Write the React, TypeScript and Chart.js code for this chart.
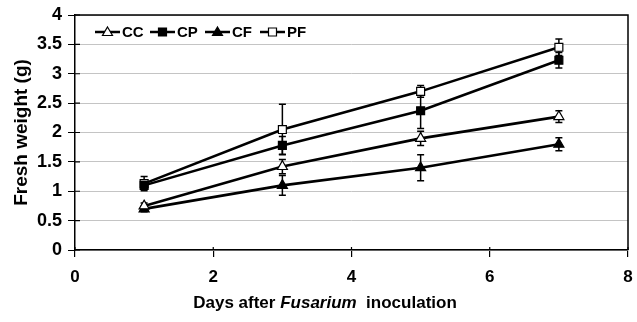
import React, { useEffect, useRef } from "react";
import { Chart, registerables } from "chart.js";

Chart.register(...registerables);

// ---- data ----
const days = [1, 3, 5, 7];
const seriesLabels = ["CC", "CP", "CF", "PF"];
const ccValues = [0.75, 1.42, 1.9, 2.27];
const ccErrors = [0.05, 0.12, 0.12, 0.1];
const cpValues = [1.1, 1.78, 2.37, 3.23];
const cpErrors = [0.05, 0.15, 0.3, 0.13];
const cfValues = [0.7, 1.1, 1.4, 1.8];
const cfErrors = [0.05, 0.17, 0.22, 0.11];
const pfValues = [1.13, 2.05, 2.7, 3.45];
const pfErrors = [0.12, 0.43, 0.1, 0.14];
const xTicks = [0, 2, 4, 6, 8];
const yTicks = [0, 0.5, 1, 1.5, 2, 2.5, 3, 3.5, 4];
const yTitle = "Fresh weight (g)";
const xTitleParts = [
  { text: "Days after ", italic: false },
  { text: "Fusarium", italic: true },
  { text: "  inoculation", italic: false },
];

const FONT = "'Liberation Sans', Arial, Helvetica, sans-serif";

const seriesStyles = [
  { style: "triangle", filled: false },
  { style: "rect", filled: true },
  { style: "triangle", filled: true },
  { style: "rect", filled: false },
];
const allValues = [ccValues, cpValues, cfValues, pfValues];
const allErrors = [ccErrors, cpErrors, cfErrors, pfErrors];

function drawMarker(ctx: CanvasRenderingContext2D, style: string, filled: boolean, x: number, y: number) {
  ctx.save();
  ctx.beginPath();
  if (style === "rect") {
    const h = 4;
    ctx.rect(x - h, y - h, 2 * h, 2 * h);
  } else {
    ctx.moveTo(x, y - 5);
    ctx.lineTo(x + 5, y + 3.5);
    ctx.lineTo(x - 5, y + 3.5);
    ctx.closePath();
  }
  ctx.fillStyle = filled ? "#000" : "#fff";
  ctx.fill();
  ctx.lineWidth = 1.2;
  ctx.strokeStyle = "#000";
  ctx.stroke();
  ctx.restore();
}

const overlayPlugin = {
  id: "overlay",
  beforeDatasetsDraw(chart: any) {
    const ctx = chart.ctx as CanvasRenderingContext2D;
    const ys = chart.scales.y;
    chart.data.datasets.forEach((ds: any, di: number) => {
      const meta = chart.getDatasetMeta(di);
      meta.data.forEach((pt: any, i: number) => {
        const v = ds.data[i].y;
        const e = ds.errors[i];
        const yt = ys.getPixelForValue(v + e);
        const yb = ys.getPixelForValue(v - e);
        ctx.save();
        ctx.strokeStyle = "#000";
        ctx.lineWidth = 1.5;
        ctx.beginPath();
        ctx.moveTo(pt.x, yt);
        ctx.lineTo(pt.x, yb);
        ctx.moveTo(pt.x - 3.5, yt);
        ctx.lineTo(pt.x + 3.5, yt);
        ctx.moveTo(pt.x - 3.5, yb);
        ctx.lineTo(pt.x + 3.5, yb);
        ctx.stroke();
        ctx.restore();
      });
    });
  },
  afterDraw(chart: any) {
    const ctx = chart.ctx as CanvasRenderingContext2D;
    const { left, right, top, bottom } = chart.chartArea;
    const xs = chart.scales.x;
    const ys = chart.scales.y;
    ctx.save();
    // frame top and right
    ctx.strokeStyle = "#000";
    ctx.lineWidth = 1.5;
    ctx.beginPath();
    ctx.moveTo(left, top);
    ctx.lineTo(right, top);
    ctx.lineTo(right, bottom);
    ctx.stroke();
    // inner tick parts
    ctx.lineWidth = 1.2;
    ctx.beginPath();
    yTicks.forEach((t) => {
      const y = ys.getPixelForValue(t);
      ctx.moveTo(left, y);
      ctx.lineTo(left + 5, y);
    });
    xTicks.forEach((t) => {
      const x = xs.getPixelForValue(t);
      ctx.moveTo(x, bottom);
      ctx.lineTo(x, bottom - 3);
    });
    ctx.stroke();

    // legend
    const ly = top + 17;
    let lx = left + 20;
    chart.data.datasets.forEach((ds: any, di: number) => {
      const st = seriesStyles[di];
      ctx.strokeStyle = "#000";
      ctx.lineWidth = 2.5;
      ctx.beginPath();
      ctx.moveTo(lx, ly);
      ctx.lineTo(lx + 25, ly);
      ctx.stroke();
      drawMarker(ctx, st.style, st.filled, lx + 12.5, ly);
      ctx.fillStyle = "#000";
      ctx.font = `bold 15px ${FONT}`;
      ctx.textBaseline = "middle";
      ctx.textAlign = "left";
      ctx.fillText(ds.label, lx + 27, ly + 1);
      lx += 55;
    });

    // x title (mixed styles)
    const parts = xTitleParts.map((p) => ({
      ...p,
      font: `${p.italic ? "italic " : ""}bold 17px ${FONT}`,
    }));
    let total = 0;
    const widths = parts.map((p) => {
      ctx.font = p.font;
      const w = ctx.measureText(p.text).width;
      total += w;
      return w;
    });
    let tx = 325 - total / 2;
    ctx.fillStyle = "#000";
    ctx.textBaseline = "middle";
    ctx.textAlign = "left";
    parts.forEach((p, i) => {
      ctx.font = p.font;
      ctx.fillText(p.text, tx, 303);
      tx += widths[i];
    });
    ctx.restore();
  },
};

export default function App() {
  const ref = useRef<HTMLCanvasElement | null>(null);
  useEffect(() => {
    document.body.style.margin = "0";
    const canvas = ref.current!;
    const datasets = seriesLabels.map((label, di) => {
      const st = seriesStyles[di];
      return {
        label,
        data: days.map((d, i) => ({ x: d, y: allValues[di][i] })),
        errors: allErrors[di],
        borderColor: "#000",
        borderWidth: 2.6,
        pointStyle: st.style,
        pointRadius: st.style === "rect" ? 5.6 : 5.8,
        pointBackgroundColor: st.filled ? "#000" : "#fff",
        pointBorderColor: "#000",
        pointBorderWidth: 1.2,
        tension: 0,
        fill: false,
      };
    });
    const chart = new Chart(canvas, {
      type: "line",
      data: { datasets } as any,
      options: {
        responsive: false,
        animation: false,
        layout: { padding: { top: 15, right: 9, left: 0, bottom: 0 } },
        plugins: { legend: { display: false }, tooltip: { enabled: false } },
        scales: {
          x: {
            type: "linear",
            min: 0,
            max: 8,
            afterBuildTicks: (s: any) => {
              s.ticks = xTicks.map((v) => ({ value: v }));
            },
            afterFit: (s: any) => {
              s.height = 72;
              s.paddingLeft = 0;
              s.paddingRight = 0;
            },
            ticks: {
              color: "#000",
              font: { family: FONT, size: 17, weight: "bold" },
              padding: 10,
              maxRotation: 0,
              callback: (v: any) => String(v),
            },
            grid: { drawOnChartArea: false, tickColor: "#000", tickLength: 7, lineWidth: 1.2 },
            border: { color: "#000", width: 1.5 },
          },
          y: {
            type: "linear",
            min: 0,
            max: 4,
            afterBuildTicks: (s: any) => {
              s.ticks = yTicks.map((v) => ({ value: v }));
            },
            afterFit: (s: any) => {
              s.width = 75;
              s.paddingTop = 0;
              s.paddingBottom = 0;
            },
            ticks: {
              color: "#000",
              font: { family: FONT, size: 18, weight: "bold" },
              padding: 6,
              callback: (v: any) => String(v),
            },
            grid: { color: "#c4c4c4", lineWidth: 1, tickColor: "#000", tickLength: 7 },
            border: { color: "#000", width: 1.5 },
            title: {
              display: true,
              text: yTitle,
              color: "#000",
              font: { family: FONT, size: 19, weight: "bold" },
              padding: { top: 10, bottom: 0 },
            },
          },
        },
      } as any,
      plugins: [overlayPlugin],
    });
    return () => chart.destroy();
  }, []);
  return <canvas ref={ref} width={637} height={322} style={{ display: "block" }} />;
}
